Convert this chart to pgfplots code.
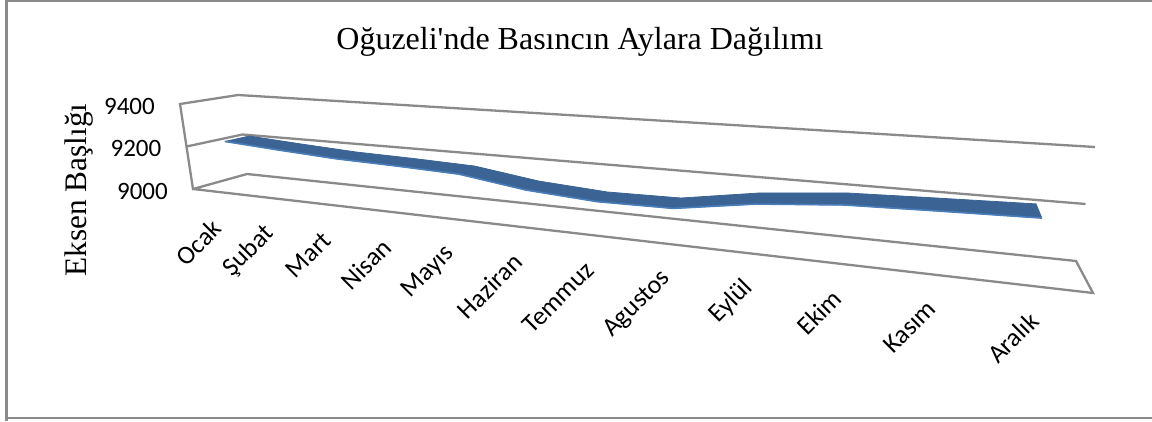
\documentclass[border=0pt]{standalone}
\usepackage{fontspec}
\setmainfont{Carlito}
\newfontfamily\serifT{Liberation Serif}
\usepackage{pgfplots}
\usepackage{pgfplotstable}
\pgfplotsset{compat=1.18}
\definecolor{gridc}{HTML}{8A8A8A}
\definecolor{ribbon}{HTML}{3B6494}
\definecolor{ribbonl}{HTML}{4A7EBB}
% months: u = position along the (perspective) month axis, val = pressure
\pgfplotstableread{
name val u
Ocak 9195 .008
Şubat 9177 .069
Mart 9161 .134
Nisan 9154 .202
Mayıs 9144 .275
Haziran 9103 .352
Temmuz 9084 .434
Agustos 9088 .522
Eylül 9138 .616
Ekim 9167 .717
Kasım 9177 .825
Aralık 9186 .942
}\months
\pgfplotstableread{
u val d
.008 9195 1
.069 9177 1
.134 9161 1
.202 9154 1
.275 9144 1
.352 9103 1
.434 9084 1
.522 9088 1
.616 9138 1
.717 9167 1
.825 9177 1
.942 9186 1
.942 9186 .56
.825 9177 .56
.717 9167 .56
.616 9138 .56
.522 9088 .56
.434 9084 .56
.352 9103 .56
.275 9144 .56
.202 9154 .56
.134 9161 .56
.069 9177 .56
.008 9195 .56
}\ribbonT
\pgfplotstableread{
u val d
1 9400 1
0 9400 1
0 9400 0
0 9000 0
0 9000 1
1 9000 1
1 9000 0
0 9000 0
}\wallA
\pgfplotstableread{
u val d
0 9200 0
0 9200 1
1 9200 1
}\wallB
\pgfplotstableread{
val lab
9000 9000
9200 9200
9400 9400
}\zticks
\pgfplotstableread{
px py
6.5 421
6.5 0.7
1152 0.7
}\frameT
\pgfplotstableread{
px py
6.5 418
1152 418
}\frameB
\begin{document}
\begin{tikzpicture}
\useasboundingbox (0,0) rectangle (1152pt,421pt);
\begin{axis}[
  at={(0,0)},anchor=south west,
  x=1pt,y=1pt,xmin=0,xmax=1152,ymin=0,ymax=421,y dir=reverse,
  axis lines=none,clip=false,xtick=\empty,ytick=\empty,
  declare function={
    PX(\p,\q,\r)=(1-\r)*((1-\q)*(193+900*\p)+\q*(180+933*\p))+\r*((1-\q)*(247+829*\p)+\q*(238+857*\p));
    PY(\p,\q,\r)=(1-\r)*((1-\q)*(189+104*\p)+\q*(104+78*\p))+\r*((1-\q)*(174+87*\p)+\q*(95+52*\p));
  },
]
\addplot[gridc,line width=2.2pt,line join=miter] table[x=px,y=py]{\frameT};
\addplot[gridc,line width=2.2pt] table[x=px,y=py]{\frameB};
\addplot[gridc,line width=2.3pt,line join=miter] table[
  x expr={PX(\thisrow{u},(\thisrow{val}-9000)/400,\thisrow{d})},
  y expr={PY(\thisrow{u},(\thisrow{val}-9000)/400,\thisrow{d})}]{\wallA};
\addplot[gridc,line width=2.3pt,line join=miter] table[
  x expr={PX(\thisrow{u},(\thisrow{val}-9000)/400,\thisrow{d})},
  y expr={PY(\thisrow{u},(\thisrow{val}-9000)/400,\thisrow{d})}]{\wallB};
\addplot[fill=ribbon,draw=ribbon,line width=0.8pt,line join=round] table[
  x expr={PX(\thisrow{u},(\thisrow{val}-9000)/400,\thisrow{d})},
  y expr={PY(\thisrow{u},(\thisrow{val}-9000)/400,\thisrow{d})}]{\ribbonT} -- cycle;
\addplot[ribbonl,line width=1.6pt] table[
  x expr={PX(\thisrow{u},(\thisrow{val}-9000)/400,.56)},
  y expr={PY(\thisrow{u},(\thisrow{val}-9000)/400,.56)}]{\months};
% month names
\addplot[draw=none,no markers,point meta=explicit symbolic,nodes near coords,
  nodes near coords style={font=\fontsize{26}{28}\selectfont,anchor=east,rotate=45,inner sep=0pt}]
  table[meta=name,
  x expr={PX(\thisrow{u},0,0)+17-25*\thisrow{u}},
  y expr={PY(\thisrow{u},0,0)+34-5*\thisrow{u}}]{\months};
% pressure ticks
\addplot[draw=none,no markers,point meta=explicit symbolic,nodes near coords,
  nodes near coords style={font=\fontsize{25}{27}\selectfont,anchor=east,inner sep=0pt}]
  table[meta=lab,
  x expr={PX(0,(\thisrow{val}-9000)/400,0)-25},
  y expr={PY(0,(\thisrow{val}-9000)/400,0)+2}]{\zticks};
\node[font=\serifT\fontsize{32}{34}\selectfont] at (axis cs:580,42) {Oğuzeli'nde Basıncın Aylara Dağılımı};
\node[font=\serifT\fontsize{31.3}{33}\selectfont,rotate=90] at (axis cs:79,190) {Eksen Başlığı};
\end{axis}
\end{tikzpicture}
\end{document}
